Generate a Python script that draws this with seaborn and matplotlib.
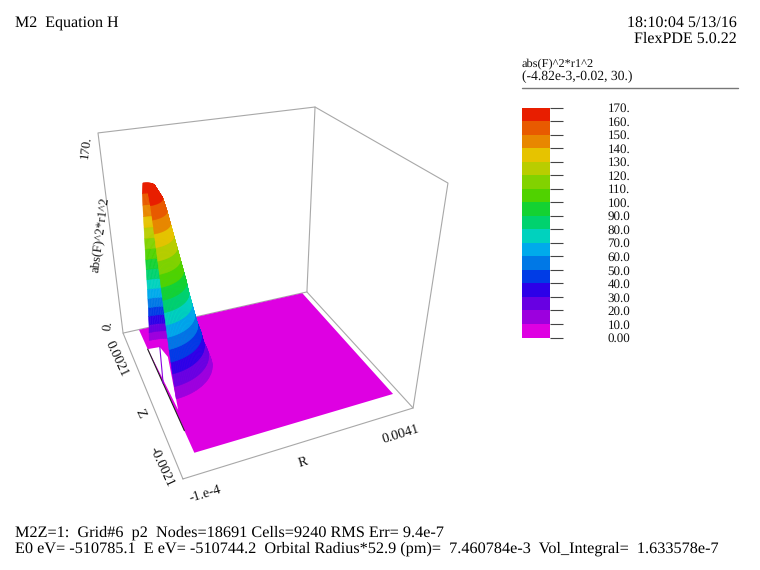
import numpy as np
import matplotlib
matplotlib.use("Agg")
import matplotlib.pyplot as plt
from matplotlib.collections import PolyCollection
from matplotlib.colors import ListedColormap
import seaborn as sns

# values
level_labels = ["170.", "160.", "150.", "140.", "130.", "120.", "110.", "100.", "90.0",
                "80.0", "70.0", "60.0", "50.0", "40.0", "30.0", "20.0", "10.0", "0.00"]
band_colors = ["#de00e2", "#9c00de", "#6800e2", "#2c00e8", "#003ce6", "#0078e6",
               "#00aaeb", "#00d2be", "#00d26e", "#14d232", "#50d200", "#82d200",
               "#b9cd00", "#e6c300", "#e88700", "#e85a00", "#e81e00"]
levels = [10, 20, 30, 40, 50, 60, 70, 80, 90, 100, 110, 120, 130, 140, 150, 160, 170]
radius = [9.3e-4, 8.7e-4, 8.0e-4, 7.6e-4, 7.0e-4, 6.6e-4, 6.2e-4, 5.8e-4, 5.5e-4,
          5.1e-4, 4.7e-4, 4.3e-4, 3.9e-4, 3.5e-4, 3.1e-4, 2.6e-4, 1.5e-4]
r_box = [-1e-4, 0.0041]
z_box = [-0.0021, 0.0021]
v_box = [0, 170]
r_dom = [2.3e-4, 3.98e-3]
z_dom = [-1.645e-3, 2.09e-3]
r_peak = 2.7e-4
z_peak = 4.0e-4
surface_scale = 0.905
gap_r = [2.35e-4, 4.7e-4, 5.3e-4, 3.1e-4, 2.8e-4]
gap_z = [1.37e-3, 1.345e-3, 9.7e-4, -3.85e-4, -5.67e-4]

# frame corners: (r, z, v) index -> pixel, used to fit the camera
corners = [((0, 0, 0), (183, 479)), ((1, 0, 0), (413, 408)), ((1, 1, 0), (307, 292)),
           ((0, 1, 0), (123, 333)), ((0, 1, 1), (98, 133)), ((1, 1, 1), (315, 107)),
           ((1, 0, 1), (448, 183))]

A = []
for (u, v, w), (px, py) in corners:
    A.append([u, v, w, 1, 0, 0, 0, 0, -px*u, -px*v, -px*w, -px])
    A.append([0, 0, 0, 0, u, v, w, 1, -py*u, -py*v, -py*w, -py])
P = np.linalg.svd(np.array(A, float))[2][-1].reshape(3, 4)


def project(r, z, v):
    u = (np.asarray(r, float) - r_box[0]) / (r_box[1] - r_box[0])
    t = (np.asarray(z, float) - z_box[0]) / (z_box[1] - z_box[0])
    w = (np.asarray(v, float) - v_box[0]) / (v_box[1] - v_box[0])
    q = P @ np.stack([u, t, w, np.ones_like(u)])
    return np.column_stack([q[0] / q[2], q[1] / q[2]])


sns.set_theme(style="white")
plt.rcParams["font.family"] = ["Liberation Serif", "DejaVu Serif"]
plt.rcParams["text.hinting"] = "no_hinting"

fig = plt.figure(figsize=(7.6, 5.7), dpi=100)
ax = fig.add_axes([0, 0, 1, 1])
ax.set_xlim(0, 760)
ax.set_ylim(570, 0)
ax.axis("off")

# frame
frame = [[(0, 0, 0), (1, 0, 0), (1, 1, 0), (0, 1, 0), (0, 0, 0)],
         [(0, 1, 0), (0, 1, 1), (1, 1, 1), (1, 1, 0)],
         [(1, 1, 1), (1, 0, 1), (1, 0, 0)]]
for path in frame:
    rr = [r_box[i] for i, _, _ in path]
    zz = [z_box[j] for _, j, _ in path]
    vv = [v_box[k] for _, _, k in path]
    xy = project(rr, zz, vv)
    ax.plot(xy[:, 0], xy[:, 1], color="#a8a8a8", lw=0.8, zorder=1)

# floor of the domain, with the tear next to the peak
floor = project([r_dom[0], r_dom[1], r_dom[1], r_dom[0]],
                [z_dom[0], z_dom[0], z_dom[1], z_dom[1]], [0, 0, 0, 0])
ax.fill(floor[:, 0], floor[:, 1], color=band_colors[0], lw=0, zorder=2)
gap = project(gap_r, gap_z, np.zeros(len(gap_r)))
ax.fill(gap[:, 0], gap[:, 1], color="white", lw=0, zorder=3)
edge = project([r_dom[0], r_dom[0]], [gap_z[0], -1.1e-3], [0, 0])
ax.plot(edge[:, 0], edge[:, 1], color="#222222", lw=0.8, zorder=3.5)
slit = project([gap_r[1], r_dom[0]], [gap_z[1], 2.3e-4], [0, 0])
ax.plot(slit[:, 0], slit[:, 1], color="#8a00e0", lw=0.8, zorder=3.5)

# surface wedges, painted back to front
theta = np.radians(np.linspace(90, -90, 73))
polys, cols = [], []
for a0, a1 in zip(theta[:-1], theta[1:]):
    for i in range(len(levels) - 1):
        r0, r1 = radius[i], radius[i + 1]
        quad = project([r_peak + r0*np.cos(a0), r_peak + r0*np.cos(a1), r_peak + r1*np.cos(a1), r_peak + r1*np.cos(a0)],
                       [z_peak + r0*np.sin(a0), z_peak + r0*np.sin(a1), z_peak + r1*np.sin(a1), z_peak + r1*np.sin(a0)],
                       np.array([levels[i], levels[i], levels[i + 1], levels[i + 1]]) * surface_scale)
        polys.append(quad)
        cols.append(band_colors[i + 1])
ax.add_collection(PolyCollection(polys, facecolors=cols, edgecolors=cols, linewidths=0.4, zorder=4))

# text round the frame
tx = dict(ha="center", va="center", color="#111111")
ax.text(86, 147, "170.", rotation=83, fontsize=9.4, **tx)
ax.text(108, 326, "0.", rotation=83, fontsize=9.4, **tx)
ax.text(100, 235, "abs(F)^2*r1^2", rotation=82.5, fontsize=9.4, **tx)
ax.text(117, 359, "0.0021", rotation=-65, fontsize=10, **tx)
ax.text(140, 413, "Z", rotation=-65, fontsize=10, **tx)
ax.text(162, 467, "-0.0021", rotation=-65, fontsize=10, **tx)
ax.text(205, 494, "-1.e-4", rotation=17, fontsize=10, **tx)
ax.text(303, 462, "R", rotation=17, fontsize=10, **tx)
ax.text(401, 434, "0.0041", rotation=17, fontsize=10, **tx)

# heading and footer
ax.text(15, 24, "M2  Equation H", fontsize=11.52, color="black", va="center")
ax.text(737, 23, "18:10:04 5/13/16", fontsize=11.52, color="black", va="center", ha="right")
ax.text(737, 38.5, "FlexPDE 5.0.22", fontsize=11.52, color="black", va="center", ha="right")
ax.text(15, 533, "M2Z=1:  Grid#6  p2  Nodes=18691 Cells=9240 RMS Err= 9.4e-7",
        fontsize=11.68, color="black", va="center")
ax.text(15, 549, "E0 eV= -510785.1  E eV= -510744.2  Orbital Radius*52.9 (pm)=  7.460784e-3  Vol_Integral=  1.633578e-7",
        fontsize=11.68, color="black", va="center")
ax.text(522, 64, "abs(F)^2*r1^2", fontsize=8.9, color="#111111", va="center")
ax.text(522, 77, "(-4.82e-3,-0.02, 30.)", fontsize=9.8, color="#111111", va="center")
ax.plot([522, 738], [87.5, 87.5], color="#777777", lw=1.0)

# colour legend
cax = fig.add_axes([522/760, 1 - 337.5/570, 28/760, 230/570])
cells = np.arange(len(band_colors))[::-1].reshape(-1, 1)
sns.heatmap(cells, cmap=ListedColormap(band_colors), cbar=False, ax=cax,
            xticklabels=False, yticklabels=False)
cax.set_yticks(np.arange(len(level_labels)))
cax.set_yticklabels(level_labels, fontsize=9.4, color="#111111", rotation=0, va="center_baseline")
cax.yaxis.tick_right()
cax.tick_params(axis="y", length=9.4, width=0.8, color="#444444", pad=32, right=True, left=False)

fig.savefig("out.png", dpi=100)
